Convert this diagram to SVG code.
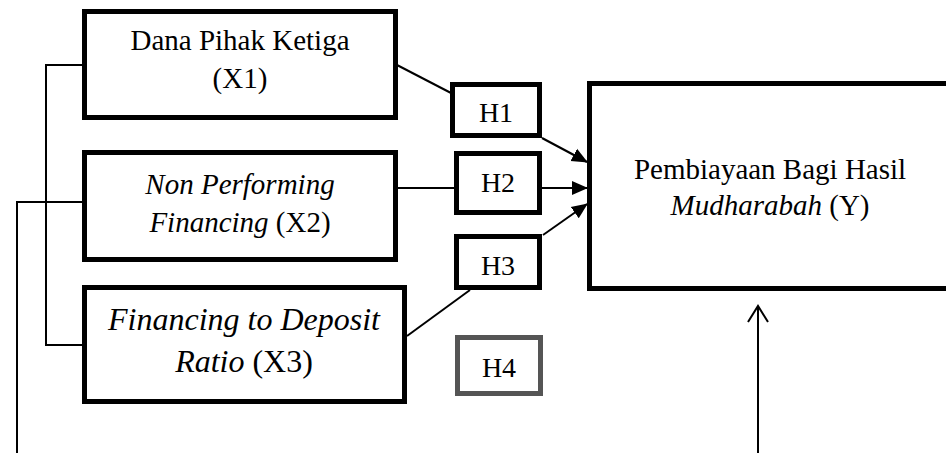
<svg xmlns="http://www.w3.org/2000/svg" width="946" height="453" viewBox="0 0 946 453">
<style>
.box{fill:#fff;stroke:#000;stroke-width:5}
.gray{fill:#fff;stroke:#555;stroke-width:5}
.ln{fill:none;stroke:#000;stroke-width:2}
text{font-family:"Liberation Serif","Times New Roman",serif;fill:#000;text-anchor:middle}
.t29{font-size:29px}
.t32{font-size:32px}
.t28{font-size:28px}
.i{font-style:italic}
</style>
<defs>
<marker id="ah" markerUnits="userSpaceOnUse" markerWidth="16" markerHeight="16" viewBox="0 0 16 16" refX="15" refY="8" orient="auto">
<path d="M0,1 L16,8 L0,15 Z" fill="#000"/>
</marker>
</defs>
<g id="connectors">
<polyline class="ln" points="82,65 46,65 46,345 82,345"/>
<polyline class="ln" points="82,202 17,202 17,453"/>
<line class="ln" x1="397" y1="65" x2="451" y2="93"/>
<line class="ln" x1="542" y1="138" x2="587" y2="162" marker-end="url(#ah)"/>
<line class="ln" x1="398" y1="188" x2="455" y2="188"/>
<line class="ln" x1="542" y1="188" x2="587" y2="188" marker-end="url(#ah)"/>
<line class="ln" x1="407" y1="336" x2="470" y2="290"/>
<line class="ln" x1="543" y1="235" x2="587" y2="204" marker-end="url(#ah)"/>
<line class="ln" x1="758" y1="453" x2="758" y2="306"/>
<polyline class="ln" points="748,322 758,306 768,322"/>
</g>
<g id="x1">
<rect class="box" x="84.5" y="11.5" width="311" height="106"/>
<text class="t29" x="240" y="50">Dana Pihak Ketiga</text>
<text class="t29" x="240" y="88">(X1)</text>
</g>
<g id="x2">
<rect class="box" x="84.5" y="152.5" width="311" height="107"/>
<text class="t29 i" x="240" y="194">Non Performing</text>
<text class="t29" x="240" y="232"><tspan class="i">Financing</tspan> (X2)</text>
</g>
<g id="x3">
<rect class="box" x="84.5" y="287.5" width="320" height="114"/>
<text class="t32 i" x="244" y="330">Financing to Deposit</text>
<text class="t32" x="244" y="372"><tspan class="i">Ratio</tspan> (X3)</text>
</g>
<g id="h1">
<rect class="box" x="452.5" y="84.5" width="87" height="51"/>
<text class="t28" x="496" y="122">H1</text>
</g>
<g id="h2">
<rect class="box" x="456.5" y="153.5" width="83" height="59"/>
<text class="t28" x="498" y="192">H2</text>
</g>
<g id="h3">
<rect class="box" x="456.5" y="236.5" width="83" height="51"/>
<text class="t28" x="498" y="275">H3</text>
</g>
<g id="h4">
<rect class="gray" x="457.5" y="337.5" width="83" height="56"/>
<text class="t28" x="499" y="377">H4</text>
</g>
<g id="y">
<rect class="box" x="589.5" y="83.5" width="370" height="205"/>
<text class="t29" x="770" y="179">Pembiayaan Bagi Hasil</text>
<text class="t29" x="770" y="215"><tspan class="i">Mudharabah</tspan> (Y)</text>
</g>
</svg>
